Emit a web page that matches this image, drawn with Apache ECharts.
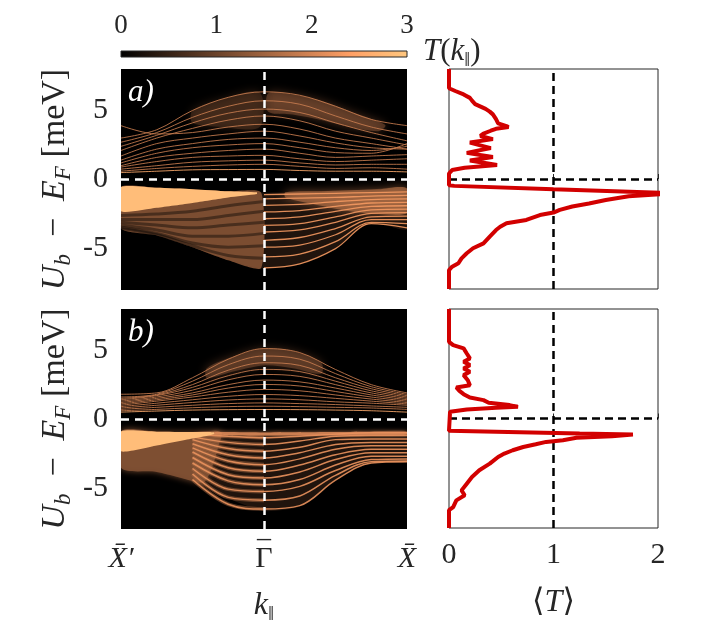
<!DOCTYPE html>
<html><head><meta charset="utf-8">
<script src="https://cdn.jsdelivr.net/npm/echarts@6/dist/echarts.min.js"></script>
<style>html,body{margin:0;padding:0;background:#fff}#c{width:718px;height:630px}</style>
</head><body><div id="c"></div>
<script>
// ===== DATA =====
const K9 = [-1, -0.75, -0.5, -0.25, 0, 0.25, 0.5, 0.75, 1];
const K_LEFT = [-1, -0.75, -0.5, -0.25, 0];
const K_RIGHT = [0, 0.25, 0.5, 0.75, 1];
const K7 = [-0.5, -0.25, 0, 0.25, 0.5, 0.75, 1];
const K_TICKS = [-1, 0, 1];
const K_TICK_LABELS = ['X\u0304\u2032', '\u0393', 'X\u0304'];
const E_TICKS = [-5, 0, 5];
const T_TICKS = [0, 1, 2];
const CBAR_TICKS = [0, 1, 2, 3];

// panel a) upper bands, energies at K9
const A_UP = [
  [3.0, 3.6, 5.0, 5.95, 6.35, 6.1, 5.3, 4.35, 3.9],
  [2.7, 3.4, 4.5, 5.3, 5.7, 5.45, 4.6, 3.8, 3.3],
  [2.4, 3.2, 4.1, 4.8, 5.1, 4.85, 4.1, 3.4, 2.8],
  [2.1, 3.0, 3.7, 4.3, 4.6, 4.25, 3.5, 3.0, 2.5],
  [3.9, 3.3, 3.4, 3.8, 4.0, 3.65, 3.0, 2.6, 2.2],
  [1.7, 2.6, 3.0, 3.3, 3.5, 3.15, 2.65, 2.3, 2.2],
  [1.4, 2.2, 2.6, 2.9, 3.0, 2.7, 2.3, 2.1, 2.4],
  [1.2, 1.9, 2.3, 2.5, 2.6, 2.3, 1.95, 1.9, 2.6],
  [1.0, 1.6, 1.9, 2.1, 2.2, 1.9, 1.6, 1.7, 1.8],
  [0.9, 1.3, 1.6, 1.7, 1.75, 1.5, 1.3, 1.4, 1.5],
  [0.75, 1.0, 1.25, 1.35, 1.4, 1.2, 1.05, 1.1, 1.1],
  [0.6, 0.8, 0.95, 1.05, 1.1, 0.95, 0.8, 0.85, 0.75],
  [0.5, 0.6, 0.7, 0.72, 0.73, 0.65, 0.6, 0.6, 0.55]
];
// panel a) lower fan right of Gamma, energies at K_RIGHT
const A_FAN = [
  [-1.1, -1.05, -1.0, -0.95, -0.9],
  [-1.4, -1.35, -1.3, -1.2, -1.15],
  [-1.87, -1.8, -1.6, -1.45, -1.4],
  [-2.35, -2.25, -1.95, -1.7, -1.65],
  [-2.84, -2.7, -2.3, -1.95, -1.9],
  [-3.32, -3.2, -2.7, -2.2, -2.15],
  [-3.8, -3.65, -3.1, -2.45, -2.4],
  [-4.4, -4.2, -3.55, -2.7, -2.65],
  [-4.9, -4.75, -4.0, -2.9, -2.9],
  [-5.6, -5.4, -4.5, -3.1, -3.2],
  [-6.4, -6.1, -5.0, -3.2, -3.5]
];
// panel a) dark stripes inside the diffuse region left of Gamma, at K_LEFT
const A_LEFT_DARK = [
  [-2.6, -2.5, -2.3, -1.9, -1.6],
  [-2.9, -2.9, -2.9, -2.6, -2.3],
  [-3.1, -3.3, -3.5, -3.3, -3.1],
  [-3.3, -3.65, -4.1, -4.1, -3.9],
  [-3.45, -3.9, -4.6, -4.9, -4.8],
  [-3.55, -4.0, -4.8, -5.5, -5.7]
];
const A_LOW_TOP = [-0.55, -0.6, -0.7, -0.85, -0.95, -0.9, -0.8, -0.72, -0.65];
const A_LOW_BOT = [-3.55, -4.05, -4.9, -5.85, -6.45, -6.15, -4.95, -3.1, -3.6];
const A_MID_LEFT = [[-1,-0.55],[-0.75,-0.6],[-0.5,-0.7],[-0.25,-0.85],[-0.02,-0.95],[-0.02,-6.4],[-0.25,-5.85],[-0.5,-4.9],[-0.75,-4.05],[-1,-3.55]];
const A_WEDGE = [[-1,-0.55],[-0.75,-0.6],[-0.5,-0.7],[-0.25,-0.85],[-0.05,-0.93],[-0.05,-1.05],[-0.25,-1.3],[-0.5,-1.7],[-0.75,-2.05],[-1,-2.3]];
const A_GLOW_LOW_R = [[0.15,-0.93],[0.4,-0.85],[0.6,-0.78],[0.8,-0.7],[1,-0.65],[1,-2.4],[0.8,-2.5],[0.6,-2.3],[0.4,-1.9],[0.15,-1.3]];
const A_GLOW_UP_R = [[0.03,6.25],[0.2,6.15],[0.4,5.7],[0.6,4.95],[0.8,4.2],[0.85,3.9],[0.8,3.5],[0.6,3.8],[0.4,4.3],[0.2,4.7],[0.03,4.9]];
const A_GLOW_UP_L = [[-0.5,5.0],[-0.3,5.8],[-0.03,6.3],[-0.03,3.8],[-0.3,3.8],[-0.5,4.1]];

// panel b) upper bands at K9
const B_UP = [
  [1.8, 1.9, 3.0, 4.35, 5.12, 4.83, 3.6, 2.5, 1.9],
  [1.6, 1.8, 2.75, 3.95, 4.58, 4.35, 3.3, 2.35, 1.8],
  [1.5, 1.75, 2.5, 3.55, 4.09, 3.9, 3.0, 2.2, 1.7],
  [1.4, 1.7, 2.3, 3.15, 3.61, 3.45, 2.75, 2.05, 1.6],
  [1.3, 1.6, 2.1, 2.85, 3.24, 3.1, 2.5, 1.9, 1.5],
  [1.2, 1.5, 1.9, 2.5, 2.83, 2.7, 2.25, 1.75, 1.4],
  [1.1, 1.4, 1.75, 2.25, 2.51, 2.4, 2.0, 1.6, 1.3],
  [1.0, 1.3, 1.6, 1.95, 2.15, 2.05, 1.75, 1.45, 1.2],
  [0.9, 1.15, 1.4, 1.65, 1.78, 1.7, 1.5, 1.3, 1.1],
  [0.8, 1.0, 1.2, 1.38, 1.46, 1.4, 1.25, 1.15, 1.0],
  [0.7, 0.85, 1.0, 1.12, 1.17, 1.12, 1.05, 0.95, 0.85],
  [0.6, 0.7, 0.82, 0.9, 0.93, 0.9, 0.85, 0.8, 0.7],
  [0.5, 0.58, 0.65, 0.68, 0.69, 0.68, 0.65, 0.6, 0.5]
];
// panel b) lower fan at K7
const B_FAN = [
  [-1.1, -1.25, -1.37, -1.25, -1.1, -1.0, -1.0],
  [-1.3, -1.7, -1.85, -1.6, -1.25, -1.2, -1.2],
  [-1.5, -2.15, -2.34, -2.05, -1.5, -1.45, -1.45],
  [-1.8, -2.6, -2.83, -2.45, -1.85, -1.7, -1.7],
  [-2.1, -3.05, -3.32, -2.9, -2.2, -1.95, -1.95],
  [-2.4, -3.55, -3.8, -3.35, -2.6, -2.2, -2.2],
  [-2.8, -4.05, -4.29, -3.85, -2.95, -2.45, -2.45],
  [-3.2, -4.5, -4.78, -4.4, -3.35, -2.7, -2.7],
  [-3.6, -5.1, -5.27, -4.9, -3.75, -2.95, -2.9],
  [-4.0, -5.7, -5.9, -5.6, -4.1, -3.1, -3.05],
  [-4.4, -6.2, -6.55, -6.3, -4.45, -3.2, -3.1]
];
const B_LOW_TOP = [-0.9, -0.92, -0.94, -0.96, -0.98, -0.97, -0.95, -0.93, -0.92];
const B_LOW_BOT = [-3.55, -3.85, -4.5, -5.76, -6.7, -6.37, -4.42, -3.2, -3.1];
const B_MID_LEFT = [[-1,-0.9],[-0.75,-0.92],[-0.5,-0.94],[-0.3,-0.96],[-0.32,-2.0],[-0.36,-3.4],[-0.42,-4.6],[-0.5,-4.5],[-0.75,-3.85],[-1,-3.55]];
const B_WEDGE = [[-1,-0.9],[-0.75,-0.92],[-0.5,-0.94],[-0.35,-0.96],[-0.35,-1.1],[-0.5,-1.42],[-0.75,-1.93],[-1,-2.35]];
const B_TOP_STRIP = [[-0.35,-0.96],[0,-0.98],[0.5,-0.95],[1,-0.92],[1,-1.15],[0.5,-1.2],[0,-1.2],[-0.35,-1.15]];
const B_GLOW_UP = [[-0.4,3.7],[-0.2,4.6],[0,5.15],[0.2,4.95],[0.4,4.1],[0.4,3.3],[0.2,3.7],[0,3.9],[-0.2,3.5],[-0.4,3.0]];

// right panels: mean transmission <T> vs energy
const TA_T = [0, 0, 0.06, 0.14, 0.2, 0.22, 0.25, 0.35, 0.39, 0.42, 0.45, 0.47, 0.55, 0.57, 0.45, 0.4, 0.33, 0.3, 0.42, 0.2, 0.19, 0.4, 0.17, 0.42, 0.2, 0.46, 0.15, 0.03, 0, 0, 0.05, 1.0, 2.15, 1.72, 1.5, 1.34, 1.18, 1.06, 1.0, 0.87, 0.74, 0.55, 0.49, 0.45, 0.39, 0.33, 0.23, 0.17, 0.12, 0.09, 0.03, 0, 0];
const TA_E = [8, 6.6, 6.4, 6.15, 5.9, 5.7, 5.45, 5.1, 4.9, 4.7, 4.35, 4.05, 3.85, 3.78, 3.65, 3.51, 3.3, 3.13, 2.9, 2.65, 2.55, 2.25, 1.9, 1.6, 1.35, 1.02, 0.82, 0.65, 0.4, -0.45, -0.5, -0.75, -1.04, -1.25, -1.53, -1.78, -2.0, -2.25, -2.44, -2.62, -2.98, -3.22, -3.47, -3.71, -4.19, -4.68, -5.04, -5.4, -5.77, -6.13, -6.38, -6.62, -8];
const TB_T = [0, 0, 0.04, 0.14, 0.15, 0.17, 0.2, 0.14, 0.2, 0.14, 0.2, 0.14, 0.18, 0.2, 0.07, 0.1, 0.14, 0.2, 0.33, 0.38, 0.58, 0.66, 0.45, 0.17, 0.01, 0, 0.45, 1.25, 1.76, 1.56, 1.22, 1.09, 0.93, 0.83, 0.71, 0.61, 0.53, 0.47, 0.39, 0.29, 0.22, 0.17, 0.12, 0.15, 0.07, 0.04, 0, 0];
const TB_E = [8, 5.6, 5.36, 5.12, 5.0, 4.75, 4.39, 4.15, 3.9, 3.66, 3.41, 3.17, 2.8, 2.43, 2.27, 2.02, 1.78, 1.53, 1.34, 1.15, 0.98, 0.85, 0.78, 0.66, 0.49, -0.9, -0.97, -1.1, -1.17, -1.3, -1.41, -1.59, -1.71, -1.88, -2.08, -2.32, -2.56, -2.81, -3.3, -3.78, -4.27, -4.76, -5.25, -5.61, -5.98, -6.47, -6.7, -8];

// ===== STYLE / BUILD =====
const FONT = '"Liberation Serif","DejaVu Serif",serif';
const INK = '#262626';
function copper(T) {
  const x = Math.min(1, Math.max(0, T / 3));
  const r = Math.min(1, 1.25 * x), g = 0.7812 * x, b = 0.4975 * x;
  return 'rgb(' + Math.round(r * 255) + ',' + Math.round(g * 255) + ',' + Math.round(b * 255) + ')';
}
function rich(size) {
  return {
    i: {fontFamily: FONT, fontStyle: 'italic', fontSize: size, color: INK, lineHeight: size + 6, verticalAlign: 'middle'},
    n: {fontFamily: FONT, fontSize: size, color: INK, lineHeight: size + 6, verticalAlign: 'middle'},
    s: {fontFamily: FONT, fontStyle: 'italic', fontSize: Math.round(size * 0.68), color: INK, lineHeight: Math.round(size * 0.5), verticalAlign: 'bottom'}
  };
}
function poly(pts, T, opacity, ax, z, smooth, blur) {
  return {
    type: 'custom', xAxisIndex: ax, yAxisIndex: ax, data: pts, silent: true, clip: true, z: z,
    renderItem: function (params, api) {
      if (params.dataIndex !== 0) return null;
      return {
        type: 'polygon',
        shape: {points: pts.map(function (p) { return api.coord(p); }), smooth: smooth == null ? 0.3 : smooth},
        style: {fill: copper(T), opacity: opacity, shadowBlur: blur || 0, shadowColor: copper(T)}
      };
    }
  };
}
function band(ks, es, ax, color, w, op, z) {
  return {
    type: 'line', xAxisIndex: ax, yAxisIndex: ax, silent: true, symbol: 'none', smooth: 0.35, z: z || 3,
    data: ks.map(function (k, i) { return [k, es[i]]; }),
    lineStyle: {color: color, width: w, opacity: op}
  };
}
function envelope(top, bot) {
  return K9.map(function (k, i) { return [k, top[i]]; })
    .concat(K9.slice().reverse().map(function (k, j) { return [k, bot[K9.length - 1 - j]]; }));
}
function tLine(ts, es, ax) {
  return {
    type: 'line', xAxisIndex: ax, yAxisIndex: ax, silent: true, symbol: 'none', z: 6,
    data: ts.map(function (t, i) { return [t, es[i]]; }),
    lineStyle: {color: '#d20000', width: 4}
  };
}
function guides(ax, color, dash, xv) {
  return {
    type: 'line', xAxisIndex: ax, yAxisIndex: ax, data: [], z: 5,
    markLine: {silent: true, symbol: ['none', 'none'], label: {show: false},
      lineStyle: {color: color, width: 2.5, type: dash},
      data: [{xAxis: xv}, {yAxis: 0}]}
  };
}

const series = [];
// ---- panel a (axis index 0) ----
series.push(poly(envelope(A_LOW_TOP, A_LOW_BOT), 0.3, 1, 0, 1, 0.2));
series.push(poly(A_MID_LEFT, 1.25, 0.9, 0, 2, 0.2));
series.push(poly(A_GLOW_LOW_R, 1.8, 0.55, 0, 2, 0.3, 10));
series.push(poly(A_GLOW_UP_R, 1.3, 0.5, 0, 2, 0.3, 10));
series.push(poly(A_GLOW_UP_L, 0.9, 0.45, 0, 2, 0.3, 10));
A_LEFT_DARK.forEach(function (es) { series.push(band(K_LEFT, es, 0, '#000', 3, 0.4, 2)); });
A_UP.forEach(function (es, i) { series.push(band(K9, es, 0, copper(i === A_UP.length - 1 ? 2.6 : 1.9), 1, 0.85)); });
A_FAN.forEach(function (es) { series.push(band(K_RIGHT, es, 0, copper(2.3), 1.3, 0.9)); });
series.push(poly(A_WEDGE, 2.85, 1, 0, 4, 0.2));
series.push(guides(0, '#ffffff', [8, 6], 0));
// ---- panel b (axis index 2) ----
series.push(poly(envelope(B_LOW_TOP, B_LOW_BOT), 0.3, 1, 2, 1, 0.2));
series.push(poly(B_MID_LEFT, 1.2, 0.9, 2, 2, 0.3, 6));
series.push(poly(B_GLOW_UP, 1.2, 0.5, 2, 2, 0.3, 10));
B_UP.forEach(function (es, i) { series.push(band(K9, es, 2, copper(i === B_UP.length - 1 ? 2.6 : 1.9), 1, 0.85)); });
B_FAN.forEach(function (es) {
  series.push(band(K7.slice(0, 3), es.slice(0, 3), 2, copper(1.6), 4, 0.5));
  series.push(band(K7, es, 2, copper(2.2), 1.5, 0.9));
});
series.push(poly(B_TOP_STRIP, 2.2, 0.75, 2, 4, 0.2, 4));
series.push(poly(B_WEDGE, 2.85, 1, 2, 4, 0.2));
series.push(guides(2, '#ffffff', [8, 6], 0));
// ---- right panels (axis 1, 3) ----
series.push(guides(1, '#000000', [8, 5], 1));
series.push(tLine(TA_T, TA_E, 1));
series.push(guides(3, '#000000', [8, 5], 1));
series.push(tLine(TB_T, TB_E, 3));
// ---- colour bar (axis 4) ----
series.push({
  type: 'custom', xAxisIndex: 4, yAxisIndex: 4, data: [[CBAR_TICKS[0], 0]], silent: true,
  renderItem: function (params, api) {
    const p0 = api.coord([CBAR_TICKS[0], 1]), p1 = api.coord([CBAR_TICKS[CBAR_TICKS.length - 1], 0]);
    return {type: 'rect', shape: {x: p0[0], y: p0[1], width: p1[0] - p0[0], height: p1[1] - p0[1]},
      style: {fill: new echarts.graphic.LinearGradient(0, 0, 1, 0, [
        {offset: 0, color: copper(0)}, {offset: 0.8, color: copper(2.4)}, {offset: 1, color: copper(3)}]),
        stroke: INK, lineWidth: 1}};
  }
});

const yName = '{i|U}{s|b}{n|  \u2212  }{i|E}{s|F}{n| [meV]}';
function leftY(grid) {
  return {gridIndex: grid, type: 'value', min: -8, max: 8, interval: 1,
    axisLine: {show: false}, axisTick: {show: false}, splitLine: {show: false},
    axisLabel: {margin: 13, fontSize: 30, fontFamily: FONT, color: INK,
      formatter: function (v) { return E_TICKS.indexOf(v) >= 0 ? String(v) : ''; }},
    name: yName, nameLocation: 'middle', nameRotate: 90, nameGap: 46,
    nameTextStyle: {rich: rich(34)}};
}
function rightY(grid) {
  return {gridIndex: grid, type: 'value', min: -8, max: 8, show: false};
}

const option = {
  animation: false,
  backgroundColor: '#ffffff',
  grid: [
    {left: 121, top: 69, width: 286, height: 221, show: true, backgroundColor: '#000', borderWidth: 0},
    {left: 449, top: 69, width: 209, height: 220, show: true, backgroundColor: '#fff', borderColor: INK, borderWidth: 1},
    {left: 121, top: 309, width: 286, height: 220, show: true, backgroundColor: '#000', borderWidth: 0},
    {left: 449, top: 309, width: 209, height: 219, show: true, backgroundColor: '#fff', borderColor: INK, borderWidth: 1},
    {left: 121, top: 51, width: 286, height: 6}
  ],
  xAxis: [
    {gridIndex: 0, type: 'value', min: -1, max: 1, show: false},
    {gridIndex: 1, type: 'value', min: 0, max: 2, interval: 1, axisLine: {show: false}, splitLine: {show: false},
      axisTick: {inside: true, length: 5, lineStyle: {color: INK}}, axisLabel: {show: false}},
    {gridIndex: 2, type: 'value', min: -1, max: 1, interval: 1, axisLine: {show: false}, axisTick: {show: false}, splitLine: {show: false},
      axisLabel: {margin: 12, formatter: function (v) {
        const i = K_TICKS.indexOf(v); if (i < 0) return '';
        return i === 1 ? '{n|' + K_TICK_LABELS[i] + '}' : '{i|' + K_TICK_LABELS[i] + '}';
      }, rich: rich(30)},
      name: '{i|k}{s|\u2016}', nameLocation: 'middle', nameGap: 58, nameTextStyle: {rich: rich(32)}},
    {gridIndex: 3, type: 'value', min: 0, max: 2, interval: 1, axisLine: {show: false}, splitLine: {show: false},
      axisTick: {inside: true, length: 5, lineStyle: {color: INK}},
      axisLabel: {margin: 12, fontSize: 30, fontFamily: FONT, color: INK,
        formatter: function (v) { return T_TICKS.indexOf(v) >= 0 ? String(v) : ''; }},
      name: '{n|\u27E8}{i|T}{n|\u27E9}', nameLocation: 'middle', nameGap: 56, nameTextStyle: {rich: rich(32)}},
    {gridIndex: 4, type: 'value', min: 0, max: 3, interval: 1, position: 'top',
      axisLine: {show: false}, axisTick: {show: false}, splitLine: {show: false},
      axisLabel: {margin: 12, fontSize: 27, fontFamily: FONT, color: INK},
      name: '{i|T}{n|(}{i|k}{s|\u2016}{n|)}', nameLocation: 'end', nameGap: 16,
      nameTextStyle: {rich: rich(31), padding: [0, 0, 10, 0]}},
    // bar over the Gamma tick label
    {gridIndex: 2, type: 'value', min: -1, max: 1, interval: 1, position: 'bottom', axisLine: {show: false},
      axisTick: {show: false}, splitLine: {show: false},
      axisLabel: {margin: -4, fontSize: 28, lineHeight: 28, fontFamily: FONT, color: INK,
        formatter: function (v) { return v === K_TICKS[1] ? '\u2013' : ''; }}}
  ],
  yAxis: [leftY(0), rightY(1), leftY(2), rightY(3), {gridIndex: 4, type: 'value', min: 0, max: 1, show: false}],
  graphic: [
    {type: 'text', left: 128, top: 77, z: 50, style: {text: 'a)', font: 'italic 31px ' + FONT, fill: '#ffffff'}},
    {type: 'text', left: 128, top: 317, z: 50, style: {text: 'b)', font: 'italic 31px ' + FONT, fill: '#ffffff'}}
  ],
  series: series
};
const chart = echarts.init(document.getElementById('c'), null, {renderer: 'canvas'});
chart.setOption(option);
</script></body></html>
